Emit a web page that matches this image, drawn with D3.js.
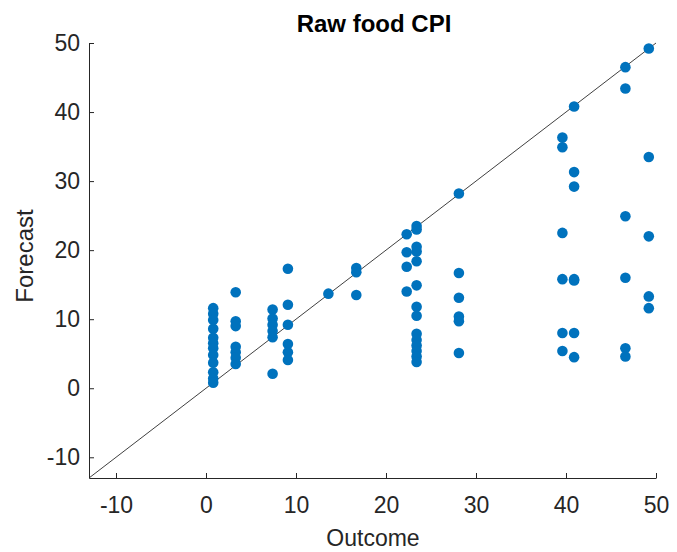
<!DOCTYPE html>
<html>
<head>
<meta charset="utf-8">
<script src="https://cdn.jsdelivr.net/npm/d3@7"></script>
<style>
  html, body { margin: 0; padding: 0; background: #fff; }
  svg { display: block; font-family: "Liberation Sans", Arial, sans-serif; }
</style>
</head>
<body>
<svg id="chart" width="677" height="552"></svg>
<script>
// Raw food CPI: realised outcome vs. individual forecasts
const outcomes = [0.8, 3.3, 7.4, 9.1, 13.6, 16.7, 22.3, 23.4, 28.1, 39.6, 40.9, 46.6, 49.2];
const forecasts = [
  [11.6, 10.8, 9.9, 8.6, 7.3, 6.5, 5.8, 4.8, 3.7, 2.3, 1.4, 0.8],
  [13.9, 9.7, 9.0, 6.0, 5.2, 4.4, 3.5],
  [11.4, 10.1, 9.2, 8.3, 7.4, 2.1],
  [17.3, 12.1, 9.2, 6.4, 5.2, 4.1],
  [13.7],
  [17.4, 16.8, 13.5],
  [22.3, 19.7, 17.6, 14.0],
  [23.5, 23.0, 20.5, 19.8, 18.4, 14.9, 11.8, 10.5, 7.9, 7.0, 6.2, 5.4, 4.6, 3.8],
  [28.2, 16.7, 13.1, 10.4, 9.7, 5.1],
  [36.3, 34.9, 22.5, 15.8, 8.0, 5.4],
  [40.8, 31.3, 29.2, 15.8, 15.6, 8.0, 4.5],
  [46.5, 43.4, 24.9, 16.0, 5.8, 4.6],
  [49.2, 33.5, 22.0, 13.3, 11.6]
];
const xTicks = [-10, 0, 10, 20, 30, 40, 50];
const yTicks = [-10, 0, 10, 20, 30, 40, 50];
const axisMin = -13, axisMax = 50;

const points = outcomes.flatMap((o, i) => forecasts[i].map(f => ({ outcome: o, forecast: f })));

const svg = d3.select("#chart");
const margin = { left: 89, right: 21, top: 43, bottom: 74 };
const W = 677, H = 552;
const axisColor = "#262626";
const fontFamily = "\"Liberation Sans\", Arial, sans-serif";

const x = d3.scaleLinear().domain([axisMin, axisMax]).range([margin.left, W - margin.right]);
const y = d3.scaleLinear().domain([axisMin, axisMax]).range([H - margin.bottom, margin.top]);

// 45-degree reference line
svg.append("line")
  .attr("x1", x(axisMin)).attr("y1", y(axisMin))
  .attr("x2", x(axisMax)).attr("y2", y(axisMax))
  .attr("stroke", "#404040").attr("stroke-width", 1);

// scatter
svg.append("g").selectAll("circle").data(points).join("circle")
  .attr("cx", d => x(d.outcome))
  .attr("cy", d => y(d.forecast))
  .attr("r", 5.3)
  .attr("fill", "#0072BD");

// axes with inward ticks, plain hyphen for negatives
const fmt = d => String(d);
const xAxis = svg.append("g")
  .attr("transform", `translate(0,${y(axisMin)})`)
  .call(d3.axisBottom(x).tickValues(xTicks).tickFormat(fmt).tickSizeInner(-5).tickSizeOuter(0).tickPadding(19));
const yAxis = svg.append("g")
  .attr("transform", `translate(${x(axisMin)},0)`)
  .call(d3.axisLeft(y).tickValues(yTicks).tickFormat(fmt).tickSizeInner(-5).tickSizeOuter(0).tickPadding(9));

[xAxis, yAxis].forEach(g => {
  g.select(".domain").attr("stroke", axisColor).attr("stroke-width", 1);
  g.selectAll(".tick line").attr("stroke", axisColor);
  g.selectAll(".tick text")
    .attr("fill", axisColor)
    .style("font-size", "23px")
    .style("font-family", fontFamily);
});

// title and axis labels
svg.append("text")
  .attr("x", 374).attr("y", 32)
  .attr("text-anchor", "middle")
  .attr("font-weight", "bold")
  .attr("font-size", "24px")
  .attr("fill", "#000")
  .text("Raw food CPI");

svg.append("text")
  .attr("x", 373).attr("y", 546)
  .attr("text-anchor", "middle")
  .attr("font-size", "23px")
  .attr("fill", axisColor)
  .text("Outcome");

svg.append("text")
  .attr("transform", "translate(33,256) rotate(-90)")
  .attr("text-anchor", "middle")
  .attr("font-size", "24px")
  .attr("fill", axisColor)
  .text("Forecast");
</script>
</body>
</html>
